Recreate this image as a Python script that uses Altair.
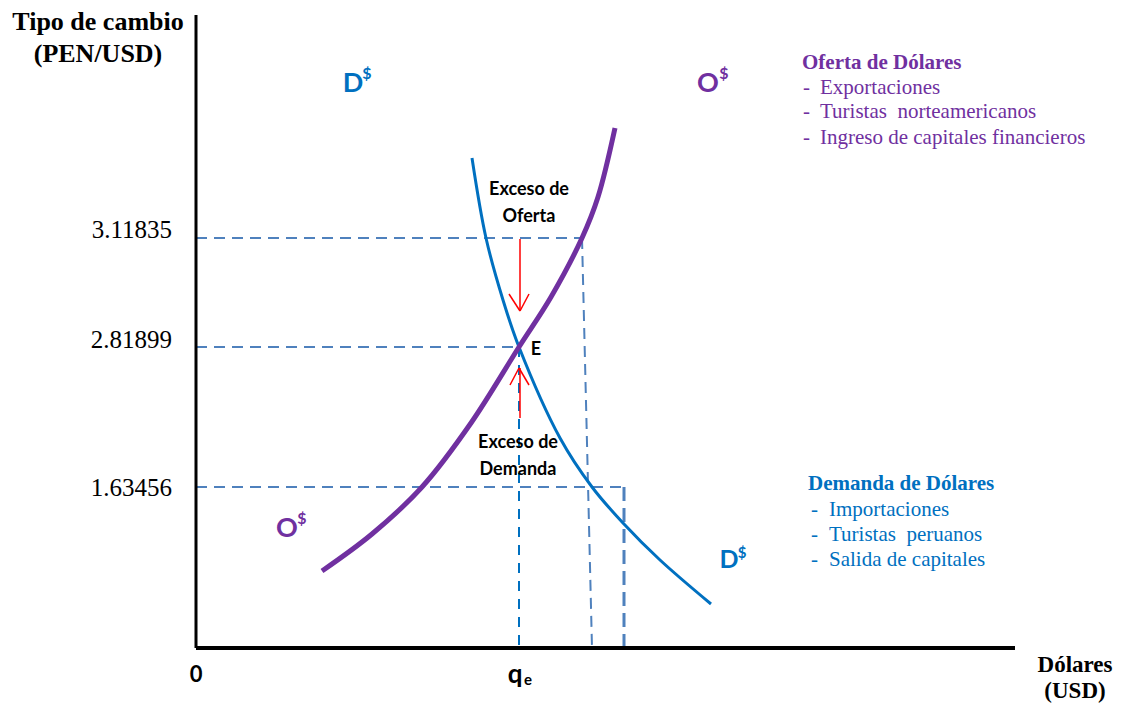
import altair as alt
import pandas as pd

# ---- data (schematic units: quantity of dollars on x, exchange rate on y) ----
supply_q = [126, 176, 226, 275, 323, 355, 386, 402, 419]
supply_p = [77, 114, 161, 225, 301, 351, 410, 451, 520]
demand_q = [276, 290, 307, 323, 364, 396, 427, 464, 515]
demand_p = [490, 410, 348, 301, 210, 161, 125, 88, 44]

level_labels = ["3.11835", "2.81899", "1.63456"]
level_p = [410, 301, 161]
level_q_top = [386, 323, 428]     # where each horizontal guide ends
level_q_bottom = [396, 323, 428]  # where each vertical guide meets the axis

oferta_items = ["Exportaciones", "Turistas \u00a0norteamericanos", "Ingreso de capitales financieros"]
demanda_items = ["Importaciones", "Turistas \u00a0peruanos", "Salida de capitales"]

PURPLE = "#7030a0"
BLUE = "#0070c0"
DASH = "#4f81bd"
SERIF = "Liberation Serif"
SANS = "Lato"

XD = [0, 819]
YD = [0, 633]
xs = alt.Scale(domain=XD, nice=False, zero=False)
ys = alt.Scale(domain=YD, nice=False, zero=False)


def X(f="x"):
    return alt.X(f"{f}:Q", scale=xs, axis=None)


def Y(f="y"):
    return alt.Y(f"{f}:Q", scale=ys, axis=None)


supply = alt.Chart(pd.DataFrame({"x": supply_q, "y": supply_p})).mark_line(
    color=PURPLE, strokeWidth=5, interpolate="catmull-rom", strokeCap="butt"
).encode(x=X(), y=Y())

demand = alt.Chart(pd.DataFrame({"x": demand_q, "y": demand_p})).mark_line(
    color=BLUE, strokeWidth=3, interpolate="catmull-rom"
).encode(x=X(), y=Y())

# dashed guides
seg_rows = []
for i, p in enumerate(level_p):
    seg_rows.append({"x": 0, "y": p, "x2": level_q_top[i], "y2": p})
seg_rows.append({"x": level_q_top[0], "y": level_p[0], "x2": level_q_bottom[0], "y2": 0})
segs = pd.DataFrame(seg_rows)
guides = alt.Chart(segs).mark_rule(color=DASH, strokeWidth=2, strokeDash=[11, 7]).encode(
    x=X(), y=Y(), x2="x2:Q", y2="y2:Q"
)
v_eq = alt.Chart(pd.DataFrame({"x": [level_q_top[1]], "y": [level_p[1]], "y2": [0]})).mark_rule(
    color=BLUE, strokeWidth=2, strokeDash=[10, 8]
).encode(x=X(), y=Y(), y2="y2:Q")
v_low = alt.Chart(pd.DataFrame({"x": [level_q_top[2]], "y": [level_p[2]], "y2": [0]})).mark_rule(
    color=DASH, strokeWidth=3, strokeDash=[14, 7]
).encode(x=X(), y=Y(), y2="y2:Q")

# axes lines
yaxis = alt.Chart(pd.DataFrame({"x": [0], "y": [0], "y2": [633]})).mark_rule(
    color="black", strokeWidth=3
).encode(x=X(), y=Y(), y2="y2:Q")
xaxis = alt.Chart(pd.DataFrame({"x": [0], "x2": [819], "y": [0]})).mark_rule(
    color="black", strokeWidth=4
).encode(x=X(), x2="x2:Q", y=Y())

# red arrows
arrow_rows = [
    {"x": 324, "y": 409, "x2": 324, "y2": 338},
    {"x": 313, "y": 354, "x2": 324, "y2": 337},
    {"x": 333, "y": 354, "x2": 324, "y2": 337},
    {"x": 324, "y": 230, "x2": 324, "y2": 280},
    {"x": 314, "y": 263, "x2": 323, "y2": 280},
    {"x": 333, "y": 263, "x2": 323, "y2": 280},
]
arrows = alt.Chart(pd.DataFrame(arrow_rows)).mark_rule(color="#ff0000", strokeWidth=1.5).encode(
    x=X(), y=Y(), x2="x2:Q", y2="y2:Q"
)


def txt(rows, size, color="black", font=SERIF, weight="normal", align="center", baseline="middle"):
    return alt.Chart(pd.DataFrame(rows, columns=["x", "y", "t"])).mark_text(
        fontSize=size, color=color, font=font, fontWeight=weight, align=align, baseline=baseline
    ).encode(x=X(), y=Y(), text="t:N")


texts = [
    txt([(-98, 626, "Tipo de cambio"), (-98, 594, "(PEN/USD)")], 26, weight="bold"),
    txt([(-24, 418, level_labels[0]), (-24, 308, level_labels[1]), (-24, 160, level_labels[2])], 25, align="right"),
    txt([(879, -17, "Dólares"), (879, -43, "(USD)")], 23, weight="bold"),
    txt([(0, -27, "0")], 22, font=SANS, weight="bold"),
    txt([(319, -35, "q")], 26, font=SANS, weight="bold", baseline="alphabetic"),
    txt([(332, -37, "e")], 15, font=SANS, weight="bold", baseline="alphabetic"),
    txt([(340, 293, "E")], 18, font=SANS, weight="bold", baseline="alphabetic"),
    txt([(333, 458, "Exceso de"), (333, 431, "Oferta"), (322, 205, "Exceso de"), (322, 178, "Demanda")],
        18, font=SANS, weight="bold"),
    # curve labels
    txt([(157, 556, "D")], 27, color=BLUE, font=SANS, weight="bold", baseline="alphabetic"),
    txt([(171, 569, "$")], 16, color=BLUE, font=SANS, weight="bold", baseline="alphabetic"),
    txt([(533, 80, "D")], 25, color=BLUE, font=SANS, weight="bold", baseline="alphabetic"),
    txt([(546, 90, "$")], 15, color=BLUE, font=SANS, weight="bold", baseline="alphabetic"),
    txt([(512, 556, "O"), (91, 111, "O")], 27, color=PURPLE, font=SANS, weight="bold", baseline="alphabetic"),
    txt([(528, 569, "$"), (106, 124, "$")], 16, color=PURPLE, font=SANS, weight="bold", baseline="alphabetic"),
    # legends
    txt([(606, 585, "Oferta de Dólares")], 21, color=PURPLE, weight="bold", align="left"),
    txt([(607, 560, "-"), (607, 536, "-"), (607, 510, "-")], 21, color=PURPLE, align="left"),
    txt([(624, 560, oferta_items[0]), (624, 536, oferta_items[1]), (624, 510, oferta_items[2])],
        21, color=PURPLE, align="left"),
    txt([(612, 164, "Demanda de Dólares")], 21, color=BLUE, weight="bold", align="left"),
    txt([(615, 138, "-"), (615, 113, "-"), (615, 88, "-")], 21, color=BLUE, align="left"),
    txt([(633, 138, demanda_items[0]), (633, 113, demanda_items[1]), (633, 88, demanda_items[2])],
        21, color=BLUE, align="left"),
]

chart = alt.layer(
    guides, v_eq, v_low, yaxis, xaxis, demand, supply, arrows, *texts
).properties(
    width=819,
    height=633,
    padding={"left": 196, "top": 15, "right": 106, "bottom": 56},
    autosize=alt.AutoSizeParams(type="none"),
    background="white",
).configure_view(stroke=None)

chart.save("out.html", embed_options={"renderer": "svg", "actions": False})
